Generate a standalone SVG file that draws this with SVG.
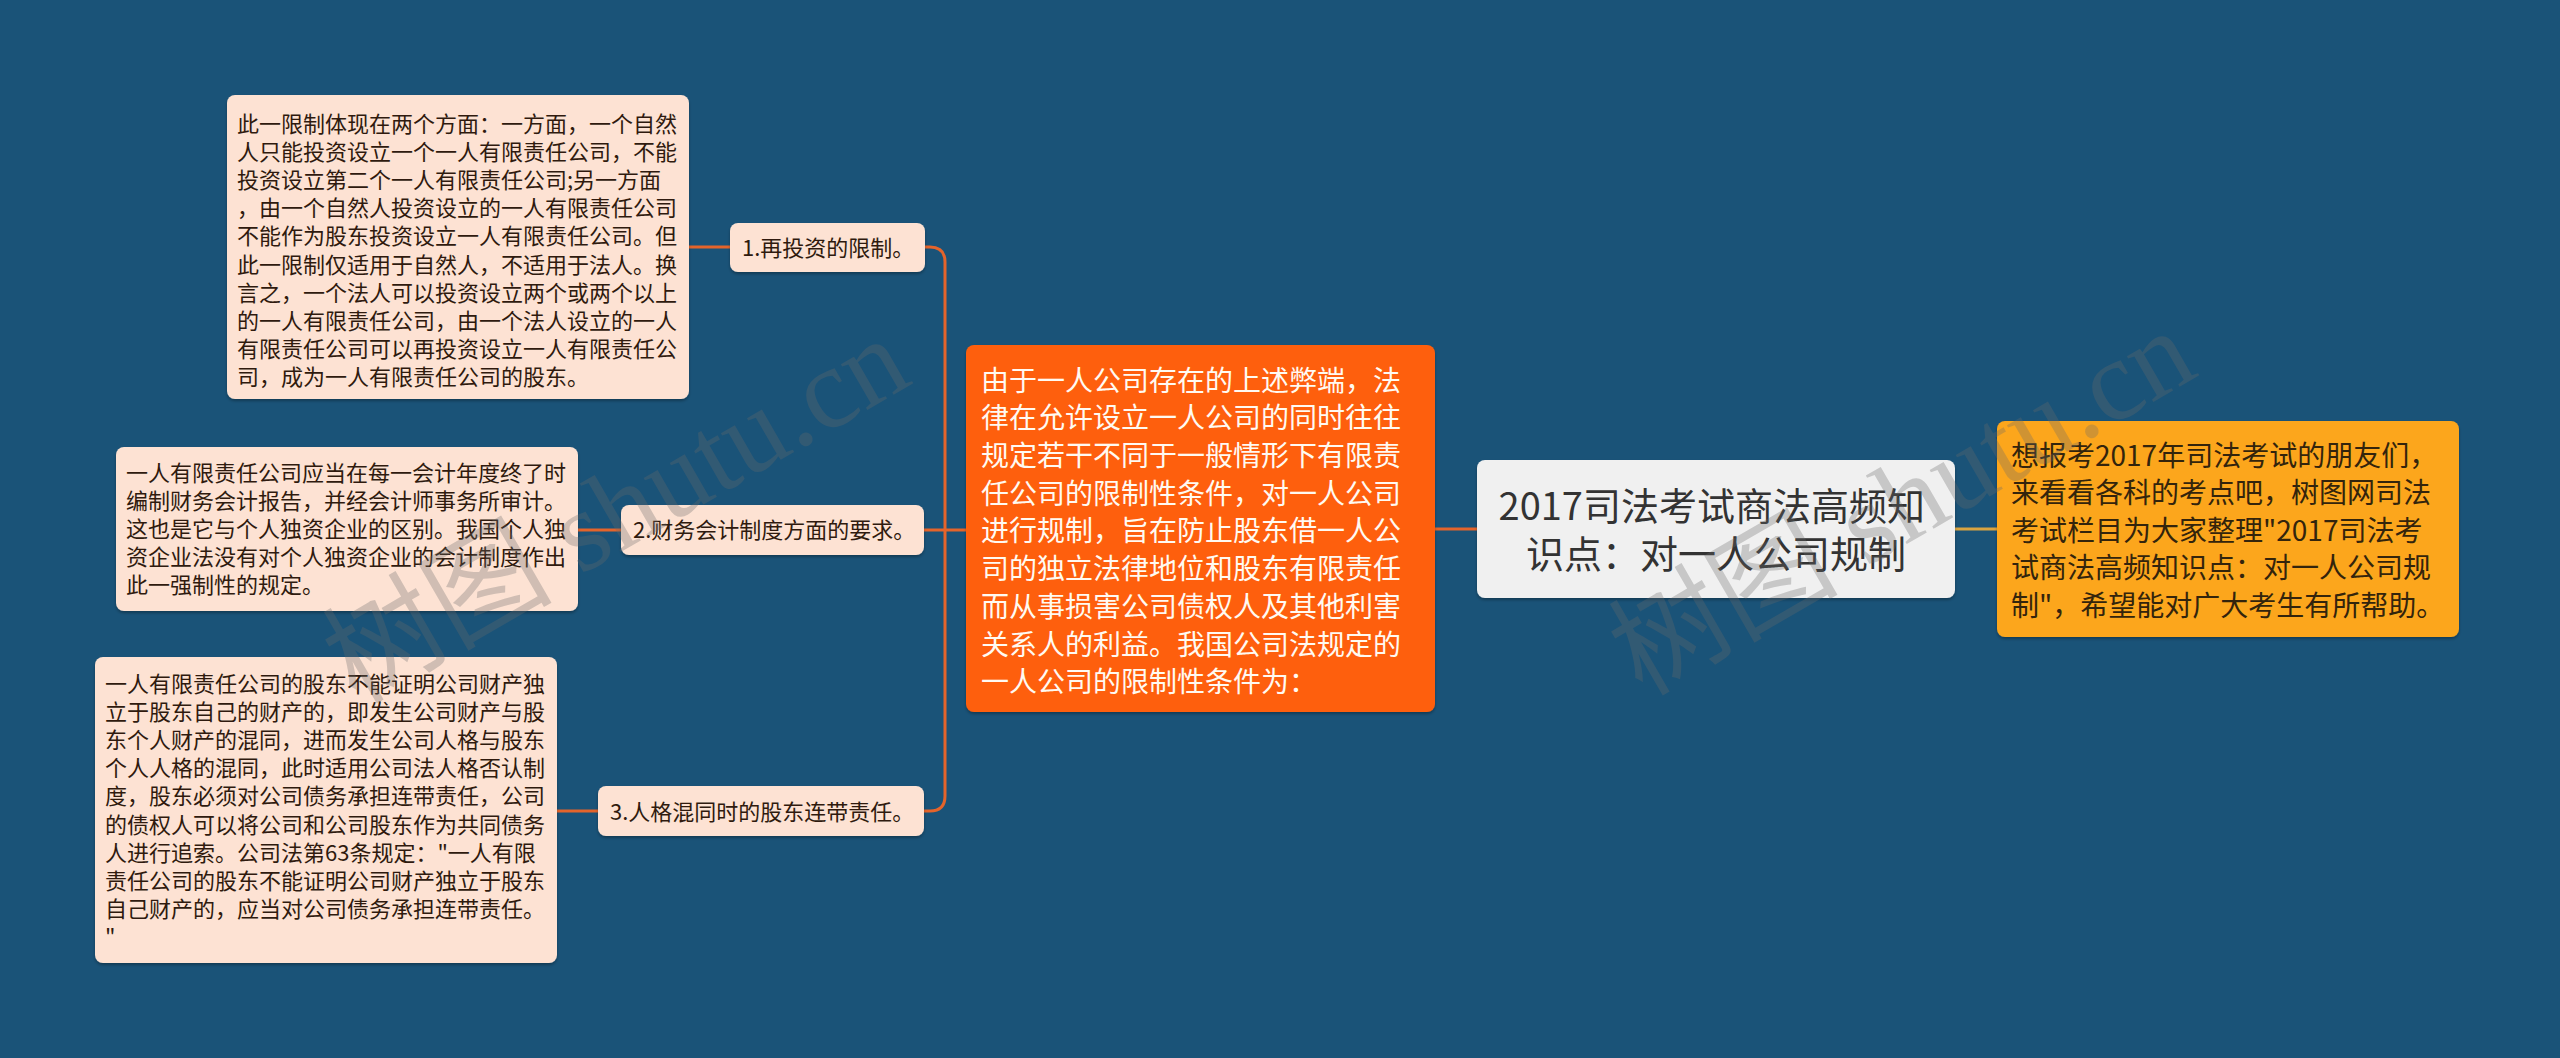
<svg xmlns="http://www.w3.org/2000/svg" width="2560" height="1058" viewBox="0 0 2560 1058">
<defs>
<filter id="sh" x="-5%" y="-5%" width="110%" height="115%">
<feDropShadow dx="0" dy="2" stdDeviation="1.5" flood-color="#000" flood-opacity="0.3"/>
</filter>
</defs>
<style>
.cjk{font-family:"Noto Sans CJK SC","Noto Sans",sans-serif;}
.det{fill:#fde2d3;}
.dt{font-size:22px;fill:#2f1a0e;}
.lab{fill:#fde2d3;}
.ot{font-size:28px;fill:#fffaf2;}
.ct{font-size:38px;fill:#333333;}
.rt{font-size:28px;fill:#33240c;}
.ln{fill:none;stroke:#e4642b;stroke-width:3;}
.lg{fill:none;stroke:#d9a441;stroke-width:3;}
.wm{font-family:"Liberation Serif","Noto Sans CJK SC",serif;font-size:115px;fill:#6a6a6a;opacity:0.3;}
</style>
<rect width="2560" height="1058" fill="#1a5378"/>

<g id="connectors">
<path class="ln" d="M689,247 H730"/>
<path class="ln" d="M578,530 H621"/>
<path class="ln" d="M557,811 H598"/>
<path class="ln" d="M925,247 H930 Q945,247 945,262 V796 Q945,811 930,811 H924"/>
<path class="ln" d="M924,530 H966"/>
<path class="ln" d="M1435,529 H1477"/>
<path class="lg" d="M1955,529 H1997"/>
</g>

<g id="detail1">
<rect class="det" x="227" y="95" width="462" height="304" rx="8" filter="url(#sh)"/>
<text class="cjk dt" x="237">
<tspan x="237" y="131.5">此一限制体现在两个方面：一方面，一个自然</tspan>
<tspan x="237" y="159.7">人只能投资设立一个一人有限责任公司，不能</tspan>
<tspan x="237" y="187.9">投资设立第二个一人有限责任公司;另一方面</tspan>
<tspan x="237" y="216.1">，由一个自然人投资设立的一人有限责任公司</tspan>
<tspan x="237" y="244.3">不能作为股东投资设立一人有限责任公司。但</tspan>
<tspan x="237" y="272.5">此一限制仅适用于自然人，不适用于法人。换</tspan>
<tspan x="237" y="300.7">言之，一个法人可以投资设立两个或两个以上</tspan>
<tspan x="237" y="328.9">的一人有限责任公司，由一个法人设立的一人</tspan>
<tspan x="237" y="357.1">有限责任公司可以再投资设立一人有限责任公</tspan>
<tspan x="237" y="385.3">司，成为一人有限责任公司的股东。</tspan>
</text>
</g>

<g id="label1">
<rect class="lab" x="730" y="223" width="195" height="49" rx="8" filter="url(#sh)"/>
<text class="cjk dt" x="742" y="255.5">1.再投资的限制。</text>
</g>

<g id="detail2">
<rect class="det" x="116" y="447" width="462" height="164" rx="8" filter="url(#sh)"/>
<text class="cjk dt">
<tspan x="126" y="480.5">一人有限责任公司应当在每一会计年度终了时</tspan>
<tspan x="126" y="508.7">编制财务会计报告，并经会计师事务所审计。</tspan>
<tspan x="126" y="536.9">这也是它与个人独资企业的区别。我国个人独</tspan>
<tspan x="126" y="565.1">资企业法没有对个人独资企业的会计制度作出</tspan>
<tspan x="126" y="593.3">此一强制性的规定。</tspan>
</text>
</g>

<g id="label2">
<rect class="lab" x="621" y="505" width="303" height="50" rx="8" filter="url(#sh)"/>
<text class="cjk dt" x="633" y="538">2.财务会计制度方面的要求。</text>
</g>

<g id="detail3">
<rect class="det" x="95" y="657" width="462" height="306" rx="8" filter="url(#sh)"/>
<text class="cjk dt">
<tspan x="105" y="691.5">一人有限责任公司的股东不能证明公司财产独</tspan>
<tspan x="105" y="719.7">立于股东自己的财产的，即发生公司财产与股</tspan>
<tspan x="105" y="747.9">东个人财产的混同，进而发生公司人格与股东</tspan>
<tspan x="105" y="776.1">个人人格的混同，此时适用公司法人格否认制</tspan>
<tspan x="105" y="804.3">度，股东必须对公司债务承担连带责任，公司</tspan>
<tspan x="105" y="832.5">的债权人可以将公司和公司股东作为共同债务</tspan>
<tspan x="105" y="860.7">人进行追索。公司法第63条规定："一人有限</tspan>
<tspan x="105" y="888.9">责任公司的股东不能证明公司财产独立于股东</tspan>
<tspan x="105" y="917.1">自己财产的，应当对公司债务承担连带责任。</tspan>
<tspan x="105" y="945.3">"</tspan>
</text>
</g>

<g id="label3">
<rect class="lab" x="598" y="786" width="326" height="50" rx="8" filter="url(#sh)"/>
<text class="cjk dt" x="610" y="819.5">3.人格混同时的股东连带责任。</text>
</g>

<g id="main">
<rect x="966" y="345" width="469" height="367" rx="8" fill="#fe5f0a" filter="url(#sh)"/>
<text class="cjk ot">
<tspan x="981" y="390.6">由于一人公司存在的上述弊端，法</tspan>
<tspan x="981" y="428.3">律在允许设立一人公司的同时往往</tspan>
<tspan x="981" y="466">规定若干不同于一般情形下有限责</tspan>
<tspan x="981" y="503.7">任公司的限制性条件，对一人公司</tspan>
<tspan x="981" y="541.4">进行规制，旨在防止股东借一人公</tspan>
<tspan x="981" y="579.1">司的独立法律地位和股东有限责任</tspan>
<tspan x="981" y="616.8">而从事损害公司债权人及其他利害</tspan>
<tspan x="981" y="654.5">关系人的利益。我国公司法规定的</tspan>
<tspan x="981" y="692.2">一人公司的限制性条件为：</tspan>
</text>
</g>

<g id="center">
<rect x="1477" y="460" width="478" height="138" rx="8" fill="#f0f0f0" filter="url(#sh)"/>
<text class="cjk ct" text-anchor="middle">
<tspan x="1716" y="519.5">2017司法考试商法高频知</tspan>
<tspan x="1716" y="567.5">识点：对一人公司规制</tspan>
</text>
</g>

<g id="intro">
<rect x="1997" y="421" width="462" height="216" rx="8" fill="#fca61e" filter="url(#sh)"/>
<text class="cjk rt">
<tspan x="2011" y="465.6">想报考2017年司法考试的朋友们，</tspan>
<tspan x="2011" y="503.1">来看看各科的考点吧，树图网司法</tspan>
<tspan x="2011" y="540.6">考试栏目为大家整理"2017司法考</tspan>
<tspan x="2011" y="578.1">试商法高频知识点：对一人公司规</tspan>
<tspan x="2011" y="615.6">制"，希望能对广大考生有所帮助。</tspan>
</text>
</g>

<g id="watermarks">
<text class="wm" transform="translate(356,705) rotate(-30)">树图 shutu.cn</text>
<text class="wm" transform="translate(1642,697) rotate(-30)">树图 shutu.cn</text>
</g>
</svg>
